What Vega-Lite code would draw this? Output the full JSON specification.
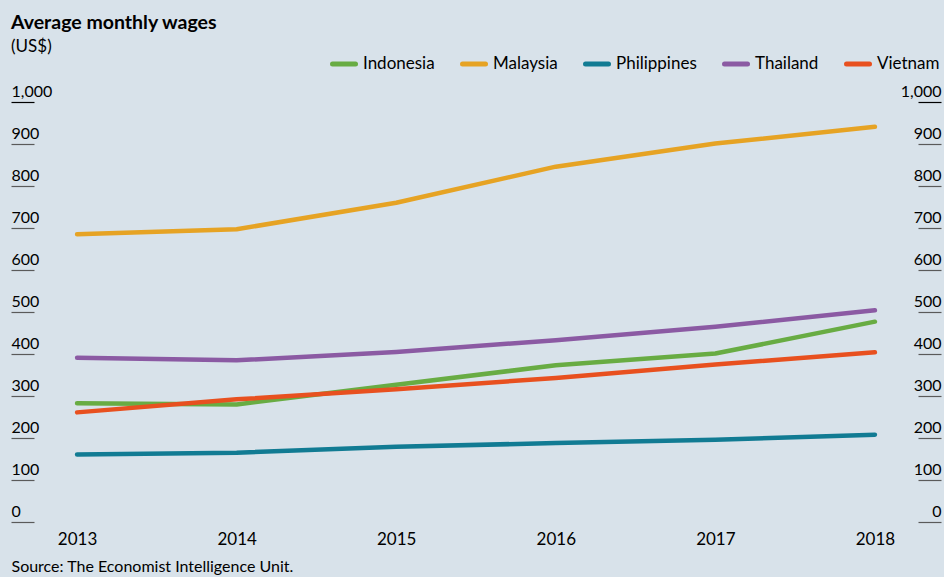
{
  "$schema": "https://vega.github.io/schema/vega-lite/v6.json",
  "autosize": {"type": "none"},
  "width": 884,
  "height": 420,
  "padding": {"left": 34, "top": 102, "right": 26, "bottom": 55},
  "background": "#d8e2ea",
  "config": {
    "view": {"stroke": null},
    "font": "Lato",
    "axis": {"labelFont": "Lato", "titleFont": "Lato"},
    "legend": {"labelFont": "Lato"}
  },
  "title": {
    "text": "Average monthly wages",
    "subtitle": "(US$)",
    "anchor": "start",
    "frame": "group",
    "dx": -23,
    "dy": 16,
    "offset": 10,
    "font": "Lato",
    "fontSize": 19.5,
    "fontWeight": "bold",
    "color": "#000000",
    "subtitleFont": "Lato",
    "subtitleFontSize": 17,
    "subtitleColor": "#000000",
    "subtitlePadding": 6
  },
  "data": {
    "values": [
      {"country": "Indonesia", "year": "2013", "wage": 283},
      {"country": "Indonesia", "year": "2014", "wage": 280},
      {"country": "Indonesia", "year": "2015", "wage": 327},
      {"country": "Indonesia", "year": "2016", "wage": 373},
      {"country": "Indonesia", "year": "2017", "wage": 401},
      {"country": "Indonesia", "year": "2018", "wage": 477},
      {"country": "Malaysia", "year": "2013", "wage": 685},
      {"country": "Malaysia", "year": "2014", "wage": 697},
      {"country": "Malaysia", "year": "2015", "wage": 760},
      {"country": "Malaysia", "year": "2016", "wage": 846},
      {"country": "Malaysia", "year": "2017", "wage": 901},
      {"country": "Malaysia", "year": "2018", "wage": 941},
      {"country": "Philippines", "year": "2013", "wage": 161},
      {"country": "Philippines", "year": "2014", "wage": 165},
      {"country": "Philippines", "year": "2015", "wage": 179},
      {"country": "Philippines", "year": "2016", "wage": 188},
      {"country": "Philippines", "year": "2017", "wage": 196},
      {"country": "Philippines", "year": "2018", "wage": 208},
      {"country": "Thailand", "year": "2013", "wage": 391},
      {"country": "Thailand", "year": "2014", "wage": 385},
      {"country": "Thailand", "year": "2015", "wage": 405},
      {"country": "Thailand", "year": "2016", "wage": 433},
      {"country": "Thailand", "year": "2017", "wage": 465},
      {"country": "Thailand", "year": "2018", "wage": 504},
      {"country": "Vietnam", "year": "2013", "wage": 261},
      {"country": "Vietnam", "year": "2014", "wage": 292},
      {"country": "Vietnam", "year": "2015", "wage": 316},
      {"country": "Vietnam", "year": "2016", "wage": 343},
      {"country": "Vietnam", "year": "2017", "wage": 375},
      {"country": "Vietnam", "year": "2018", "wage": 404}
    ]
  },
  "encoding": {
    "x": {
      "field": "year",
      "type": "ordinal",
      "scale": {"type": "point", "padding": 0.27},
      "axis": {
        "title": "Source: The Economist Intelligence Unit.",
        "titleAnchor": "start",
        "titleAlign": "left",
        "titleBaseline": "alphabetic",
        "titleX": -23,
        "titleY": 49,
        "titleFontSize": 16,
        "titleFontWeight": "normal",
        "titleColor": "#000000",
        "labelAngle": 0,
        "labelFontSize": 17,
        "labelColor": "#000000",
        "labelPadding": 9,
        "ticks": false,
        "domain": false,
        "grid": false
      }
    }
  },
  "layer": [
    {
      "mark": {"type": "line", "strokeWidth": 4.5, "strokeCap": "round", "strokeJoin": "round"},
      "encoding": {
        "y": {
          "field": "wage",
          "type": "quantitative",
          "scale": {"domain": [0, 1000], "nice": false},
          "axis": {
            "orient": "left",
            "title": null,
            "values": [0, 100, 200, 300, 400, 500, 600, 700, 800, 900, 1000],
            "grid": false,
            "domain": false,
            "tickSize": 23,
            "tickWidth": 1.2,
            "tickColor": {"condition": {"test": "datum.value === 1000", "value": "#000000"}, "value": "#5a5a5a"},
            "labelAlign": "left",
            "labelBaseline": "alphabetic",
            "labelPadding": 0,
            "labelOffset": -6,
            "labelFontSize": 16,
            "labelColor": "#000000",
            "labelFlush": false,
            "labelOverlap": false
          }
        },
        "color": {
          "field": "country",
          "type": "nominal",
          "scale": {
            "domain": ["Indonesia", "Malaysia", "Philippines", "Thailand", "Vietnam"],
            "range": ["#68ac43", "#e6a324", "#117b93", "#8b5aa3", "#e8501f"]
          },
          "legend": {
            "title": null,
            "orient": "none",
            "direction": "horizontal",
            "legendX": 296,
            "legendY": -52,
            "symbolType": "stroke",
            "symbolSize": 529,
            "symbolStrokeWidth": 5,
            "labelFontSize": 17,
            "labelColor": "#000000",
            "labelOffset": 5,
            "columnPadding": 17,
            "encode": {"symbols": {"update": {"strokeCap": {"value": "round"}}}}
          }
        }
      }
    },
    {
      "mark": {"type": "point", "opacity": 0},
      "encoding": {
        "y": {
          "field": "wage",
          "type": "quantitative",
          "axis": {
            "orient": "right",
            "title": null,
            "values": [0, 100, 200, 300, 400, 500, 600, 700, 800, 900, 1000],
            "grid": false,
            "domain": false,
            "tickSize": 23,
            "tickWidth": 1.2,
            "tickColor": {"condition": {"test": "datum.value === 1000", "value": "#000000"}, "value": "#5a5a5a"},
            "labelAlign": "right",
            "labelBaseline": "alphabetic",
            "labelPadding": 0,
            "labelOffset": -6,
            "labelFontSize": 16,
            "labelColor": "#000000",
            "labelFlush": false,
            "labelOverlap": false
          }
        }
      }
    }
  ],
  "resolve": {"axis": {"y": "independent"}}
}
